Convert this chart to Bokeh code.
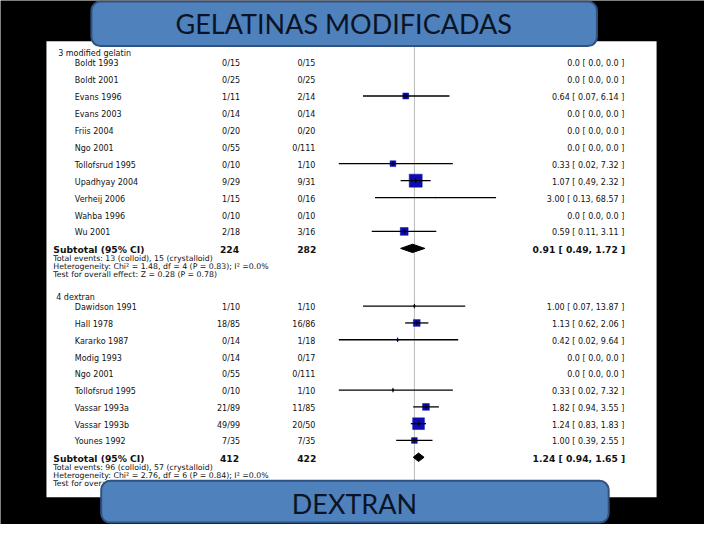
from bokeh.plotting import figure
from bokeh.models import Range1d, LogScale, ColumnDataSource, BoxAnnotation, Label
from bokeh.core.properties import value
from bokeh.embed import file_html
from bokeh.resources import INLINE

# ---------------- data ----------------
gel_title = "3 modified gelatin"
gel_studies = ["Boldt 1993", "Boldt 2001", "Evans 1996", "Evans 2003", "Friis 2004", "Ngo 2001",
               "Tollofsrud 1995", "Upadhyay 2004", "Verheij 2006", "Wahba 1996", "Wu 2001"]
gel_colloid = ["0/15", "0/25", "1/11", "0/14", "0/20", "0/55", "0/10", "9/29", "1/15", "0/10", "2/18"]
gel_cryst = ["0/15", "0/25", "2/14", "0/14", "0/20", "0/111", "1/10", "9/31", "0/16", "0/10", "3/16"]
gel_rr = [None, None, 0.64, None, None, None, 0.33, 1.07, 3.00, None, 0.59]
gel_lo = [None, None, 0.07, None, None, None, 0.02, 0.49, 0.13, None, 0.11]
gel_hi = [None, None, 6.14, None, None, None, 7.32, 2.32, 68.57, None, 3.11]
gel_weight = [0, 0, 11.5, 0, 0, 0, 11, 55, 0.2, 0, 20]
gel_total = ("224", "282")
gel_sub = (0.91, 0.49, 1.72)
gel_footer = ["Total events: 13 (colloid), 15 (crystalloid)",
              "Heterogeneity: Chi\u00b2 = 1.48, df = 4 (P = 0.83); I\u00b2 =0.0%",
              "Test for overall effect: Z = 0.28 (P = 0.78)"]

dex_title = "4 dextran"
dex_studies = ["Dawidson 1991", "Hall 1978", "Kararko 1987", "Modig 1993", "Ngo 2001",
               "Tollofsrud 1995", "Vassar 1993a", "Vassar 1993b", "Younes 1992"]
dex_colloid = ["1/10", "18/85", "0/14", "0/14", "0/55", "0/10", "21/89", "49/99", "7/35"]
dex_cryst = ["1/10", "16/86", "1/18", "0/17", "0/111", "1/10", "11/85", "20/50", "7/35"]
dex_rr = [1.00, 1.13, 0.42, None, None, 0.33, 1.82, 1.24, 1.00]
dex_lo = [0.07, 0.62, 0.02, None, None, 0.02, 0.94, 0.83, 0.39]
dex_hi = [13.87, 2.06, 9.64, None, None, 7.32, 3.55, 1.83, 2.55]
dex_weight = [0.8, 15, 0.8, 0, 0, 0.8, 15, 45, 11]
dex_total = ("412", "422")
dex_sub = (1.24, 0.94, 1.65)
dex_footer = ["Total events: 96 (colloid), 57 (crystalloid)",
              "Heterogeneity: Chi\u00b2 = 2.76, df = 6 (P = 0.84); I\u00b2 =0.0%",
              "Test for overall effect: Z = 1.50 (P = 0.13)"]

slide_titles = ["GELATINAS MODIFICADAS", "DEXTRAN"]

# ---------------- layout ----------------
W, H = 704, 524
SX, SY = W / 720.0, H / 540.0
def X(v):  # reference-picture pixel -> figure coordinate
    return v * SX
def Y(v):
    return v * SY

PX_PER_DECADE = 45.5 * SX
ONE_AT = X(423.3)
rr_start = 10 ** (-ONE_AT / PX_PER_DECADE)
rr_end = 10 ** ((W - ONE_AT) / PX_PER_DECADE)

p = figure(width=W, height=H, x_range=Range1d(0, W), y_range=Range1d(H, 0),
           output_backend="svg", toolbar_location=None,
           x_axis_location=None, y_axis_location=None, min_border=0)
p.extra_x_ranges = {"rr": Range1d(rr_start, rr_end)}
p.extra_x_scales = {"rr": LogScale()}
p.grid.visible = False
p.background_fill_color = "black"
p.border_fill_color = "black"
p.outline_line_color = None

FONT = value("DejaVu Sans")
INK = "#111111"
BLUE = "#0c0cb0"

# white panel
p.quad(left=[X(47)], right=[X(671)], top=[Y(42)], bottom=[Y(512)],
       fill_color="white", line_color=None)
# line of no effect
p.segment(x0=[1.0], x1=[1.0], y0=[Y(42)], y1=[Y(512)], x_range_name="rr",
          line_color="#b8b8b8", line_width=1)


def draw_group(title, studies, colloid, cryst, rr, lo, hi, weight, total, sub, footer,
               first_y, step, head_dx):
    ys = [Y(first_y + step * i) for i in range(len(studies))]
    sub_ref = first_y + step * len(studies)
    sub_y = Y(sub_ref)
    # header
    p.text(x=[X(head_dx)], y=[Y(first_y - 8.5)], text=[title], text_font=FONT,
           text_font_size=value("8px"), text_color=INK, text_baseline="middle")
    labels = []
    for r, l, h in zip(rr, lo, hi):
        if r is None:
            labels.append("0.0 [ 0.0, 0.0 ]")
        else:
            labels.append(f"{r:.2f} [ {l:.2f}, {h:.2f} ]")
    src = ColumnDataSource(dict(y=ys, name=studies, c=colloid, k=cryst, lab=labels))
    common = dict(text_font=FONT, text_font_size=value("8px"), text_color=INK,
                  text_baseline="middle", y_offset=1.5, source=src)
    p.text(x=X(76), y="y", text="name", text_align="left", **common)
    p.text(x=X(245), y="y", text="c", text_align="right", **common)
    p.text(x=X(322), y="y", text="k", text_align="right", **common)
    p.text(x=X(638), y="y", text="lab", text_align="right", **common)

    # forest marks for estimable studies
    idx = [i for i, r in enumerate(rr) if r is not None]
    msrc = ColumnDataSource(dict(
        rr=[rr[i] for i in idx], lo=[lo[i] for i in idx], hi=[hi[i] for i in idx],
        y=[ys[i] for i in idx],
        size=[1.75 * weight[i] ** 0.5 for i in idx]))
    p.scatter(x="rr", y="y", size="size", marker="square", source=msrc, x_range_name="rr",
              fill_color=BLUE, line_color=BLUE, line_width=0.5)
    p.segment(x0="lo", x1="hi", y0="y", y1="y", source=msrc, x_range_name="rr",
              line_color="black", line_width=1.3)
    tidx = [i for i in idx if weight[i] >= 0.5]
    tsrc = ColumnDataSource(dict(
        rr=[rr[i] for i in tidx],
        y0=[ys[i] - 2.2 for i in tidx], y1=[ys[i] + 2.2 for i in tidx]))
    p.segment(x0="rr", x1="rr", y0="y0", y1="y1", source=tsrc, x_range_name="rr",
              line_color="black", line_width=1)

    # subtotal
    bold = dict(text_font=FONT, text_font_size=value("9.2px"), text_color=INK,
                text_font_style="bold", text_baseline="middle", y_offset=1.5)
    p.text(x=[X(54)], y=[sub_y], text=["Subtotal (95% CI)"], text_align="left", **bold)
    p.text(x=[X(244)], y=[sub_y], text=[total[0]], text_align="right", **bold)
    p.text(x=[X(323)], y=[sub_y], text=[total[1]], text_align="right", **bold)
    p.text(x=[X(639)], y=[sub_y],
           text=[f"{sub[0]:.2f} [ {sub[1]:.2f}, {sub[2]:.2f} ]"], text_align="right", **bold)
    est, dlo, dhi = sub
    p.patches(xs=[[dlo, est, dhi, est]], ys=[[sub_y, sub_y - 4.2, sub_y, sub_y + 4.2]],
              x_range_name="rr", fill_color="black", line_color="black")

    fy = [Y(sub_ref + 9.7 + 8.0 * j) for j in range(len(footer))]
    p.text(x=[X(54)] * len(footer), y=fy, text=footer, text_font=FONT,
           text_font_size=value("7.8px"), text_color=INK, text_baseline="middle", y_offset=1)


draw_group(gel_title, gel_studies, gel_colloid, gel_cryst, gel_rr, gel_lo, gel_hi, gel_weight,
           gel_total, gel_sub, gel_footer, 63.5, 17.45, 59)
draw_group(dex_title, dex_studies, dex_colloid, dex_cryst, dex_rr, dex_lo, dex_hi, dex_weight,
           dex_total, dex_sub, dex_footer, 315.0, 17.3, 57)

# slide title boxes
boxes = [(93, 610, 1, 47, 351, 24), (103, 622, 495, 538, 362, 518)]
for (l, r, t, b, cx, cy), txt in zip(boxes, slide_titles):
    p.add_layout(BoxAnnotation(left=X(l), right=X(r), top=Y(t), bottom=Y(b),
                               fill_color="#4f81bd", fill_alpha=1.0,
                               line_color="#2f5280", line_width=2, line_alpha=1.0,
                               border_radius=9))
    p.add_layout(Label(x=X(cx), y=Y(cy), text=txt, text_align="center",
                       text_baseline="middle", text_font="Lato", text_font_size="27px",
                       text_color="#0b1425"))

open("out.html", "w").write(file_html(p, INLINE))
